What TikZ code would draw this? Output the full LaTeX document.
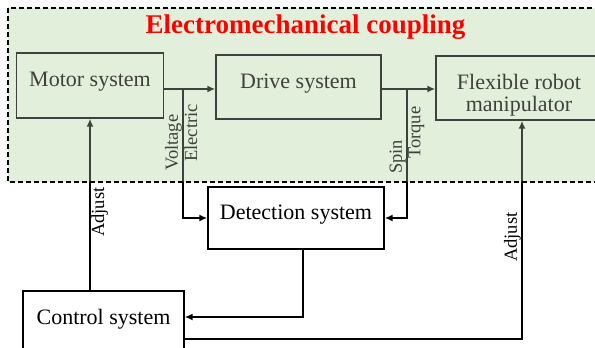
\documentclass[tikz,border=0pt]{standalone}
\usepackage{fontspec}
\setmainfont{Liberation Serif}
\usetikzlibrary{arrows.meta}
\definecolor{couplegreen}{HTML}{E2EFDA}
\definecolor{titlered}{HTML}{FF0000}
\tikzset{
  sysbox/.style={draw, line width=1.4pt, minimum height=64pt, text depth=12pt,
    inner sep=0pt, font=\fontsize{22}{22}\selectfont},
  arr/.style={line width=1.9pt, -{Latex[length=8pt,width=7pt]}},
  sig/.style={rotate=90, inner sep=1pt, font=\fontsize{18.5}{18.5}\selectfont},
}
\begin{document}
\begin{tikzpicture}[x=1pt,y=-1pt]
  \useasboundingbox (0,0) rectangle (595,348);
  \clip (0,0) rectangle (595,348);
  % coupling area
  \fill[couplegreen] (8,8) rectangle (610,182);
  % blocks
  \node[sysbox, minimum width=147pt, minimum height=65pt] (motor) at (90,85.5) {Motor system};
  \node[sysbox, minimum width=165pt] (drive) at (298.5,87) {Drive system};
  \node[sysbox, minimum width=166pt, align=center, text height=51pt, text depth=5pt] (robot) at (519,88)
    {Flexible robot\\manipulator};
  \node[sysbox, minimum width=176pt, minimum height=62pt] (detect) at (296,218) {Detection system};
  \node[sysbox, minimum width=161pt] (control) at (103.5,323) {Control system};
  % forward chain and measured signals
  \coordinate (elec) at (183,89);
  \coordinate (mech) at (407,89);
  \draw[arr] (motor.east |- elec) -- (drive.west |- elec);
  \draw[arr] (drive.east |- mech) -- (robot.west |- mech);
  \draw[arr] (elec) |- (detect.west);
  \draw[arr] (mech) |- (detect.east);
  \node[sig, anchor=south west] (volt) at (elec |- 0,172) {Voltage};
  \node[sig, anchor=north west, xshift=8pt] (elect) at (elec |- 0,171) {Electric};
  \node[sig, anchor=south west, xshift=-7pt] (spin) at (mech |- 0,168) {Spin};
  \node[sig, anchor=north west, xshift=8pt] (torq) at (mech |- 0,168) {Torque};
  % feedback
  \draw[arr] ([xshift=7pt]detect.south) |- (control.east |- 0,317);
  \draw[arr] (control.north -| motor.south) -- (motor.south);
  \draw[arr] (control.east |- 0,339) -| ([xshift=3pt]robot.south);
  \node[sig, anchor=north west, xshift=11pt] (adjm) at (motor.south |- 0,249) {Adjust};
  \node[sig, anchor=south west, xshift=-10pt] (adjr) at ([xshift=3pt]robot.south |- 0,253) {Adjust};
  % tint over the coupling area
  \fill[couplegreen, opacity=0.28] (8,8) rectangle (610,182);
  \draw[line width=1.5pt, dash pattern=on 5pt off 3pt] (8,8) rectangle (610,182);
  \node[text=titlered, font=\bfseries\fontsize{27}{27}\selectfont, anchor=base] (title) at (305.5,33.5)
    {Electromechanical coupling};
\end{tikzpicture}
\end{document}
